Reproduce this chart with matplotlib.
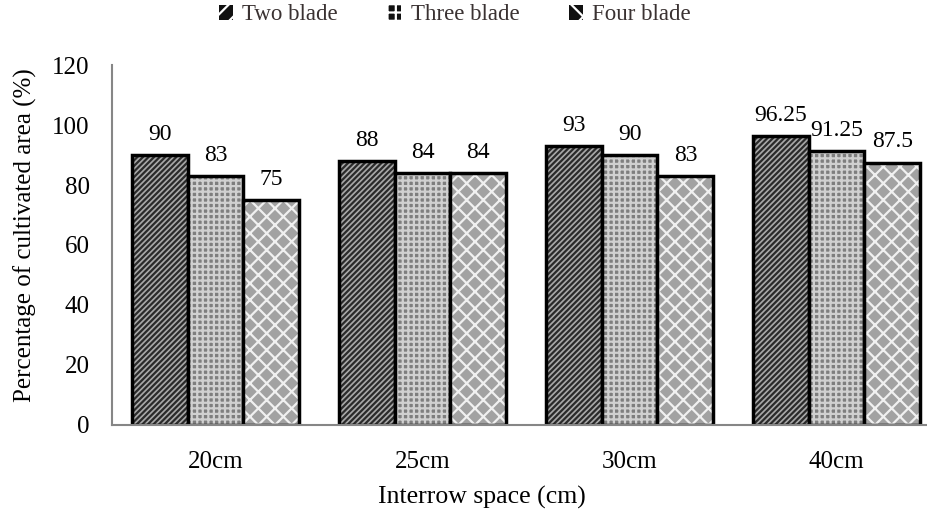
import matplotlib.pyplot as plt
import numpy as np
from matplotlib.patches import Patch

plt.rcParams["font.family"] = ["Liberation Serif", "DejaVu Serif"]
plt.rcParams["hatch.linewidth"] = 1.6

# Data
spacings = ["20cm", "25cm", "30cm", "40cm"]
two_blade = [90, 88, 93, 96.25]
three_blade = [83, 84, 90, 91.25]
four_blade = [75, 84, 83, 87.5]
series_names = ["Two blade", "Three blade", "Four blade"]

# Styles: (face, hatch, hatch colour, legend hatch)
styles = [
    ("#a8a8a8", "//////", "#2a2a2a", "//"),
    ("#7e7e7e", "+++", "#d0d0d0", "++"),
    ("#a2a2a2", "xx", "#f0f0f0", "x"),
]

fig = plt.figure(figsize=(9.27, 5.12), dpi=100)
ax = fig.add_axes([0.1208, 0.170, 0.8792, 0.703])

x = np.arange(len(spacings))
width = 0.27
for i, (vals, (face, hatch, hcol, _)) in enumerate(zip([two_blade, three_blade, four_blade], styles)):
    pos = x + (i - 1) * width
    ax.bar(pos, vals, width, color=face, hatch=hatch, edgecolor=hcol, linewidth=0)
    ax.bar(pos, vals, width, fill=False, edgecolor="black", linewidth=2.5)
    for p, v in zip(pos, vals):
        ax.text(p, v + 3.5, f"{v:g}", ha="center", va="bottom", fontsize=17)

ax.set_ylim(0, 120)
ax.set_xlim(-0.5, 3.437)
ax.set_yticks(range(0, 121, 20))
ax.set_xticks(x)
ax.set_xticklabels(spacings)
ax.tick_params(axis="both", length=0, labelsize=18)
ax.tick_params(axis="y", pad=16)
ax.tick_params(axis="x", pad=19)
for side in ["top", "right"]:
    ax.spines[side].set_visible(False)
for side in ["left", "bottom"]:
    ax.spines[side].set_color("#868686")
    ax.spines[side].set_linewidth(1.5)

fig.text(25 / 927, 1 - 235 / 512, "Percentage of cultivated area (%)", rotation=90,
         ha="center", va="center", fontsize=18)
fig.text(482 / 927, 1 - 497 / 512, "Interrow space (cm)", ha="center", va="center", fontsize=18.5)

handles = [Patch(facecolor="#111111", hatch=s[3], edgecolor="white", linewidth=0) for s in styles]
fig.legend(handles, series_names, loc="center", bbox_to_anchor=(455 / 927, 1 - 15 / 512),
           ncol=3, frameon=False, fontsize=16.5, handlelength=0.6, handleheight=0.6,
           handletextpad=0.4, columnspacing=2.17, labelcolor="#3a3232")

fig.savefig("out.png", dpi=100)
